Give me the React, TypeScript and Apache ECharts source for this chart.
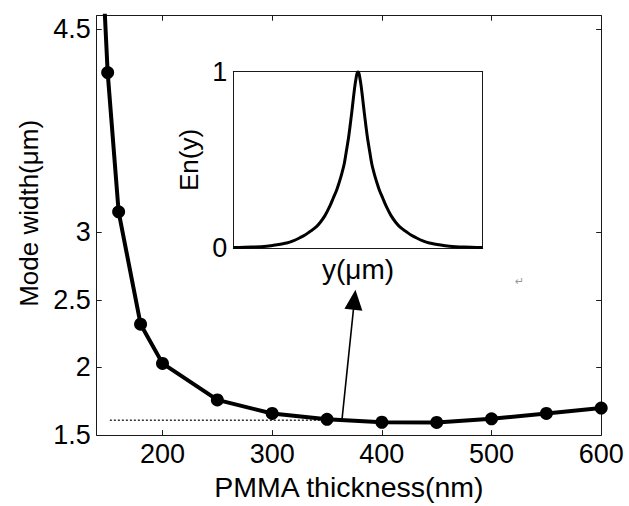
import React, { useEffect, useRef } from "react";
import * as echarts from "echarts";

// Main curve: PMMA thickness (nm) vs mode width (μm)
const thickness = [140, 150, 160, 180, 200, 250, 300, 350, 400, 450, 500, 550, 600];
const modeWidth = [5.85, 4.18, 3.15, 2.32, 2.03, 1.76, 1.66, 1.617, 1.595, 1.594, 1.62, 1.66, 1.7];

// Dotted reference line
const dottedX = [152, 362];
const dottedY = [1.61, 1.61];

// Arrow from curve to inset
const arrowStart = [363.6, 1.61];
const arrowEnd = [375.0, 2.5];

// Tick labels
const xTicks = [200, 300, 400, 500, 600];
const yTicks = [1.5, 2, 2.5, 3, 4.5];
const insetYTicks = [0, 1];

// Inset mode profile En(y)
const insetPos = [
  -1, -0.85, -0.733, -0.65, -0.572, -0.52, -0.465, -0.425, -0.385, -0.345, -0.305, -0.265, -0.225,
  -0.195, -0.171, -0.15, -0.131, -0.11, -0.091, -0.075, -0.064, -0.05, -0.037, -0.025, -0.016, -0.008,
  0,
  0.008, 0.016, 0.025, 0.037, 0.05, 0.064, 0.075, 0.091, 0.11, 0.131, 0.15, 0.171, 0.195, 0.225,
  0.265, 0.305, 0.345, 0.385, 0.425, 0.465, 0.52, 0.572, 0.65, 0.733, 0.85, 1,
];
const insetEn = [
  0.004, 0.007, 0.012, 0.02, 0.03, 0.042, 0.06, 0.075, 0.095, 0.115, 0.145, 0.185, 0.24,
  0.29, 0.33, 0.375, 0.42, 0.48, 0.56, 0.63, 0.69, 0.77, 0.85, 0.92, 0.96, 0.99,
  1.0,
  0.99, 0.96, 0.92, 0.85, 0.77, 0.69, 0.63, 0.56, 0.48, 0.42, 0.375, 0.33, 0.29, 0.24,
  0.185, 0.145, 0.115, 0.095, 0.075, 0.06, 0.042, 0.03, 0.02, 0.012, 0.007, 0.004,
];

const FONT = "Liberation Sans, Arial, sans-serif";
const AX = "#1a1a1a";

export default function App() {
  const ref = useRef<HTMLDivElement>(null);

  useEffect(() => {
    document.body.style.margin = "0";
    if (!ref.current) return;
    const chart = echarts.init(ref.current, null, { renderer: "svg" });

    const axisLine = { show: true, onZero: false, lineStyle: { color: AX, width: 1 } };
    const tickStyle = (vals: number[]) => ({
      show: true,
      inside: true,
      length: 5,
      customValues: vals,
      lineStyle: { color: AX, width: 1 },
    });

    chart.setOption({
      animation: false,
      backgroundColor: "#fff",
      textStyle: { fontFamily: FONT },
      grid: [
        { left: 96.7, top: 15.7, right: 27.8, bottom: 67.3, containLabel: false },
        { left: 233.3, top: 71.7, width: 249.4, height: 176.6, containLabel: false },
      ],
      xAxis: [
        {
          type: "value",
          gridIndex: 0,
          min: 140,
          max: 600,
          position: "bottom",
          axisLine,
          axisTick: tickStyle(xTicks),
          axisLabel: {
            customValues: xTicks,
            fontSize: 27,
            color: "#000",
            margin: 5,
            fontFamily: FONT,
          },
          splitLine: { show: false },
          name: "PMMA thickness(nm)",
          nameLocation: "middle",
          nameGap: 35,
          nameTextStyle: { fontSize: 28.5, color: "#000", fontFamily: FONT },
        },
        {
          type: "value",
          gridIndex: 0,
          min: 140,
          max: 600,
          position: "top",
          axisLine,
          axisTick: tickStyle(xTicks),
          axisLabel: { show: false },
          splitLine: { show: false },
        },
        {
          type: "value",
          gridIndex: 1,
          min: -1,
          max: 1,
          position: "bottom",
          axisLine,
          axisTick: { show: false },
          axisLabel: { show: false },
          splitLine: { show: false },
          name: "y(μm)",
          nameLocation: "middle",
          nameGap: 7,
          nameTextStyle: { fontSize: 28, color: "#000", fontFamily: FONT },
        },
        {
          type: "value",
          gridIndex: 1,
          min: -1,
          max: 1,
          position: "top",
          axisLine,
          axisTick: { show: false },
          axisLabel: { show: false },
          splitLine: { show: false },
        },
      ],
      yAxis: [
        {
          type: "value",
          gridIndex: 0,
          min: 1.5,
          max: 4.6,
          position: "left",
          axisLine,
          axisTick: tickStyle(yTicks),
          axisLabel: {
            customValues: yTicks,
            fontSize: 27,
            color: "#000",
            margin: 6,
            fontFamily: FONT,
          },
          splitLine: { show: false },
          name: "Mode width(μm)",
          nameLocation: "middle",
          nameGap: 54,
          nameTextStyle: { fontSize: 26, color: "#000", fontFamily: FONT, padding: [0, 0, 0, 24] },
        },
        {
          type: "value",
          gridIndex: 0,
          min: 1.5,
          max: 4.6,
          position: "right",
          axisLine,
          axisTick: tickStyle(yTicks),
          axisLabel: { show: false },
          splitLine: { show: false },
        },
        {
          type: "value",
          gridIndex: 1,
          min: 0,
          max: 1,
          position: "left",
          axisLine,
          axisTick: { show: false },
          axisLabel: {
            customValues: insetYTicks,
            fontSize: 27,
            color: "#000",
            margin: 6,
            fontFamily: FONT,
          },
          splitLine: { show: false },
          name: "En(y)",
          nameLocation: "middle",
          nameGap: 31,
          nameTextStyle: { fontSize: 26, color: "#000", fontFamily: FONT },
        },
        {
          type: "value",
          gridIndex: 1,
          min: 0,
          max: 1,
          position: "right",
          axisLine,
          axisTick: { show: false },
          axisLabel: { show: false },
          splitLine: { show: false },
        },
      ],
      series: [
        {
          type: "line",
          xAxisIndex: 0,
          yAxisIndex: 0,
          data: dottedX.map((x, i) => [x, dottedY[i]]),
          symbol: "none",
          lineStyle: { color: "#333", width: 1.5, type: [2, 2] },
          silent: true,
          markLine: {
            silent: true,
            symbol: ["none", "triangle"],
            symbolSize: [18, 20],
            label: { show: false },
            lineStyle: { color: "#000", width: 1.6, type: "solid" },
            data: [[{ coord: arrowStart }, { coord: arrowEnd }]],
          },
        },
        {
          type: "line",
          xAxisIndex: 0,
          yAxisIndex: 0,
          data: thickness.map((x, i) => [x, modeWidth[i]]),
          symbol: "circle",
          symbolSize: 13,
          showAllSymbol: true,
          clip: true,
          itemStyle: { color: "#000" },
          lineStyle: { color: "#000", width: 4 },
          z: 3,
        },
        {
          type: "line",
          xAxisIndex: 2,
          yAxisIndex: 2,
          data: insetPos.map((x, i) => [x, insetEn[i]]),
          symbol: "none",
          smooth: 0.3,
          lineStyle: { color: "#000", width: 3 },
        },
      ],
      graphic: [
        {
          type: "text",
          left: 515,
          top: 276,
          style: { text: "↵", fontSize: 11, fill: "#999", fontFamily: "DejaVu Sans" },
          silent: true,
        },
      ],
    });

    return () => chart.dispose();
  }, []);

  return <div ref={ref} style={{ width: 629, height: 506 }} />;
}
